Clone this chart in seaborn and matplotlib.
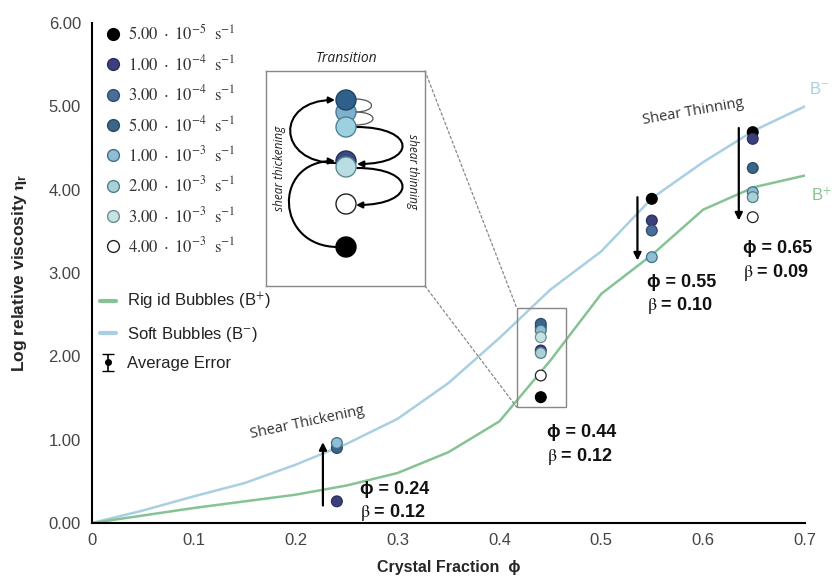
import numpy as np
import pandas as pd
import matplotlib
matplotlib.use("Agg")
import matplotlib.pyplot as plt
import seaborn as sns
from matplotlib.patches import Rectangle, Circle, FancyArrowPatch, ConnectionPatch
from matplotlib.path import Path
from matplotlib.lines import Line2D

# ---------------- data ----------------
phi_curve = [0, 0.05, 0.1, 0.15, 0.2, 0.25, 0.3, 0.35, 0.4, 0.45, 0.5, 0.55, 0.6, 0.65, 0.7]
soft_b_minus = [0, 0.15, 0.32, 0.48, 0.70, 0.95, 1.25, 1.68, 2.22, 2.80, 3.26, 3.90, 4.33, 4.71, 5.00]
rigid_b_plus = [0, 0.09, 0.18, 0.26, 0.34, 0.45, 0.60, 0.85, 1.22, 1.95, 2.75, 3.22, 3.76, 4.03, 4.17]

phi_points = [0.2404, 0.4406, 0.5496, 0.6487]
rate_names = ["5e-5", "1e-4", "3e-4", "5e-4", "1e-3", "2e-3", "3e-3", "4e-3"]
rate_legend = [r"$5.00\ \cdot\ 10^{-5}\ \ \mathrm{s}^{-1}$",
               r"$1.00\ \cdot\ 10^{-4}\ \ \mathrm{s}^{-1}$",
               r"$3.00\ \cdot\ 10^{-4}\ \ \mathrm{s}^{-1}$",
               r"$5.00\ \cdot\ 10^{-4}\ \ \mathrm{s}^{-1}$",
               r"$1.00\ \cdot\ 10^{-3}\ \ \mathrm{s}^{-1}$",
               r"$2.00\ \cdot\ 10^{-3}\ \ \mathrm{s}^{-1}$",
               r"$3.00\ \cdot\ 10^{-3}\ \ \mathrm{s}^{-1}$",
               r"$4.00\ \cdot\ 10^{-3}\ \ \mathrm{s}^{-1}$"]
nan = np.nan
eta_5e_5 = [nan, 1.51, 3.89, 4.69]
eta_1e_4 = [0.26, 2.07, 3.63, 4.61]
eta_3e_4 = [nan, 2.35, 3.51, nan]
eta_5e_4 = [0.90, 2.39, nan, 4.26]
eta_1e_3 = [0.96, 2.31, 3.19, 3.97]
eta_2e_3 = [nan, 2.04, nan, 3.91]
eta_3e_3 = [nan, 2.23, nan, nan]
eta_4e_3 = [nan, 1.77, nan, 3.67]
rate_values = [eta_5e_5, eta_1e_4, eta_3e_4, eta_5e_4, eta_1e_3, eta_2e_3, eta_3e_3, eta_4e_3]

phi_labels = ["0.24", "0.44", "0.55", "0.65"]
beta_labels = ["0.12", "0.12", "0.10", "0.09"]

rate_colors = ["#000000", "#3b3f7c", "#4a6c98", "#3a6688", "#8fbdd4", "#a9d2d8", "#c6e3e2", "#ffffff"]
rate_edges = ["#000000", "#2a2c5c", "#2e4c70", "#2a4a66", "#3f6f8a", "#4f7f88", "#6a8f90", "#222222"]

curve_df = pd.DataFrame({"phi": phi_curve * 2,
                         "eta": soft_b_minus + rigid_b_plus,
                         "model": ["soft"] * len(phi_curve) + ["rigid"] * len(phi_curve)})
rows = []
for name, vals in zip(rate_names, rate_values):
    for p, v in zip(phi_points, vals):
        if not np.isnan(v):
            rows.append({"phi": p, "eta": v, "rate": name})
pts_df = pd.DataFrame(rows)

# ---------------- style ----------------
sns.set_style("white")
plt.rcParams['font.family'] = ['Liberation Sans', 'DejaVu Sans']
plt.rcParams['mathtext.fontset'] = 'stix'

soft_col = "#a9cfe2"
rigid_col = "#86c394"

fig = plt.figure(figsize=(8.32, 5.85), dpi=100)
ax = fig.add_axes([92 / 832, 1 - 523 / 585, 713 / 832, 500 / 585])

sns.lineplot(data=curve_df, x="phi", y="eta", hue="model",
             palette={"soft": soft_col, "rigid": rigid_col}, linewidth=1.8,
             legend=False, ax=ax, zorder=2)

sns.scatterplot(data=pts_df, x="phi", y="eta", hue="rate", hue_order=rate_names,
                palette=dict(zip(rate_names, rate_colors)), s=60, linewidth=0.9,
                edgecolor=[rate_edges[rate_names.index(r)] for r in pts_df["rate"]],
                legend=False, ax=ax, zorder=5)

ax.set_xlim(0, 0.7)
ax.set_ylim(0, 6)
ax.set_xticks(np.arange(0, 0.71, 0.1))
ax.set_xticklabels(["0", "0.1", "0.2", "0.3", "0.4", "0.5", "0.6", "0.7"])
ax.set_yticks(np.arange(0, 6.01, 1))
ax.set_yticklabels([f"{v:.2f}" for v in np.arange(0, 6.01, 1)])
for s in ["top", "right"]:
    ax.spines[s].set_visible(False)
for s in ["left", "bottom"]:
    ax.spines[s].set_color("black")
    ax.spines[s].set_linewidth(1.5)
ax.tick_params(axis="x", direction="inout", length=7, width=1.3, colors="black",
               labelcolor="#444444", labelsize=12, pad=4)
ax.tick_params(axis="y", direction="out", length=5, width=1.3, colors="black",
               labelcolor="#444444", labelsize=12, pad=3)

ax.set_xlabel("Crystal Fraction  ɸ", fontsize=11.5, fontweight="bold", labelpad=8)
ax.set_ylabel(r"Log relative viscosity $\mathbf{\eta}_\mathregular{r}$", fontsize=12.5,
              fontweight="bold", labelpad=14)

# arrows
arrow_kw = dict(arrowstyle="-|>", color="black", lw=1.6, mutation_scale=11, shrinkA=0, shrinkB=0)
ax.annotate("", xy=(0.2267, 0.97), xytext=(0.2267, 0.21), arrowprops=arrow_kw, zorder=4)
ax.annotate("", xy=(0.5355, 3.15), xytext=(0.5355, 3.91), arrowprops=arrow_kw, zorder=4)
ax.annotate("", xy=(0.635, 3.63), xytext=(0.635, 4.74), arrowprops=arrow_kw, zorder=4)

# phi/beta labels
lab_font = dict(fontsize=13, fontweight="bold", color="#111111")
for (x, y1, y2), ph, be in zip([(0.263, 0.40, 0.13), (0.447, 1.09, 0.80),
                                (0.545, 2.89, 2.61), (0.639, 3.30, 3.01)],
                               phi_labels, beta_labels):
    ax.text(x, y1, "ɸ = " + ph, va="center", ha="left", **lab_font)
    ax.text(x, y2, r"$\mathrm{\beta}$ = " + be, va="center", ha="left", **lab_font)

ax.text(0.211, 1.21, "Shear Thickening", rotation=12, ha="center", va="center",
        fontsize=10.5, color="#333333", family=["Open Sans", "DejaVu Sans"])
ax.text(0.590, 4.93, "Shear Thinning", rotation=10, ha="center", va="center",
        fontsize=10.5, color="#333333", family=["Open Sans", "DejaVu Sans"])
ax.text(0.704, 5.21, r"B$^{-}$", color=soft_col, fontsize=12, ha="left", va="center",
        clip_on=False)
ax.text(0.706, 3.93, r"B$^{+}$", color=rigid_col, fontsize=12, ha="left", va="center",
        clip_on=False)

# small box around phi=0.44 cluster
box_x0, box_x1, box_y0, box_y1 = 0.417, 0.465, 1.39, 2.58
ax.add_patch(Rectangle((box_x0, box_y0), box_x1 - box_x0, box_y1 - box_y0,
                       fill=False, edgecolor="#888888", lw=1.0, zorder=3))

# legends
rate_handles = [Line2D([], [], marker="o", ls="", markersize=8.5, markerfacecolor=c,
                       markeredgecolor=e, markeredgewidth=1.0)
                for c, e in zip(rate_colors, rate_edges)]
leg1 = ax.legend(rate_handles, rate_legend, loc="upper left", bbox_to_anchor=(0.018, 1.0),
                 frameon=False, fontsize=12, handlelength=1.0, handletextpad=0.4,
                 labelspacing=0.62, borderpad=0, borderaxespad=0)
for t in leg1.get_texts():
    t.set_color("#333333")
ax.add_artist(leg1)

eb = ax.errorbar([nan], [nan], yerr=[0.1], fmt="o", color="black", ms=4, capsize=4, lw=1.2)
line_handles = [Line2D([], [], color=rigid_col, lw=3),
                Line2D([], [], color=soft_col, lw=3), eb]
line_labels = [r"Rig id Bubbles (B$^{+}$)", r"Soft Bubbles (B$^{-}$)", "Average Error"]
leg2 = ax.legend(line_handles, line_labels, loc="upper left", bbox_to_anchor=(0.011, 0.465),
                 frameon=False, fontsize=12, handlelength=0.95, handletextpad=0.7,
                 labelspacing=0.75, borderpad=0, borderaxespad=0)
for t in leg2.get_texts():
    t.set_color("#222222")

# ---------------- inset ----------------
ax_in = fig.add_axes([266 / 832, 1 - 286 / 585, 159 / 832, 215 / 585])
ax_in.set_xlim(266, 425)
ax_in.set_ylim(286, 71)
ax_in.set_xticks([])
ax_in.set_yticks([])
for s in ax_in.spines.values():
    s.set_color("#888888")
    s.set_linewidth(1.0)

inset_y = [112, 100, 127, 161, 167, 204, 247]
inset_cols = ["#7fb0cc", "#2f5f8a", "#9fd0e0", "#3a4a80", "#b9dde2", "#ffffff", "#000000"]
inset_edges = ["#4a7a96", "#1f4466", "#4f8296", "#22305a", "#5f8a92", "#222222", "#000000"]
for yy, c, e in zip(inset_y, inset_cols, inset_edges):
    ax_in.add_patch(Circle((346, yy), 10, facecolor=c, edgecolor=e, lw=1.0, zorder=3))

def loop(ax_, a, b, w, lw=1.5, head=True, color="black"):
    path = Path([a, (a[0] + w, a[1]), (b[0] + w, b[1]), b],
                [Path.MOVETO, Path.CURVE4, Path.CURVE4, Path.CURVE4])
    style = "-|>" if head else "-"
    p = FancyArrowPatch(path=path, arrowstyle=style, mutation_scale=9, lw=lw,
                        color=color, zorder=2)
    ax_.add_patch(p)

loop(ax_in, (338, 247), (335, 161), -63)
loop(ax_in, (336, 163), (335, 100), -60)
loop(ax_in, (356, 127), (357, 164), 61)
loop(ax_in, (357, 168), (356, 205), 61)
loop(ax_in, (355, 99), (355, 112), 22, lw=0.9, head=False, color="#555555")
loop(ax_in, (355, 112), (355, 125), 24, lw=0.9, head=False, color="#555555")

ax_in.text(280, 168, "shear thickening", rotation=90, ha="center", va="center",
           fontsize=8.5, style="italic", color="#222222", family=["Open Sans", "DejaVu Sans"])
ax_in.text(413, 172, "shear thinning", rotation=-90, ha="center", va="center",
           fontsize=8.5, style="italic", color="#222222", family=["Open Sans", "DejaVu Sans"])
ax_in.text(347, 59, "Transition", ha="center", va="center", fontsize=10, style="italic",
           color="#222222", clip_on=False, family=["Open Sans", "DejaVu Sans"])

for (xa, ya), (xb, yb) in [((425, 71), (box_x0, box_y1)), ((425, 286), (box_x0, box_y0))]:
    con = ConnectionPatch(xyA=(xa, ya), coordsA=ax_in.transData, xyB=(xb, yb),
                          coordsB=ax.transData, ls=(0, (2, 2)), color="#888888", lw=0.9)
    fig.add_artist(con)

fig.savefig("out.png", dpi=100)
